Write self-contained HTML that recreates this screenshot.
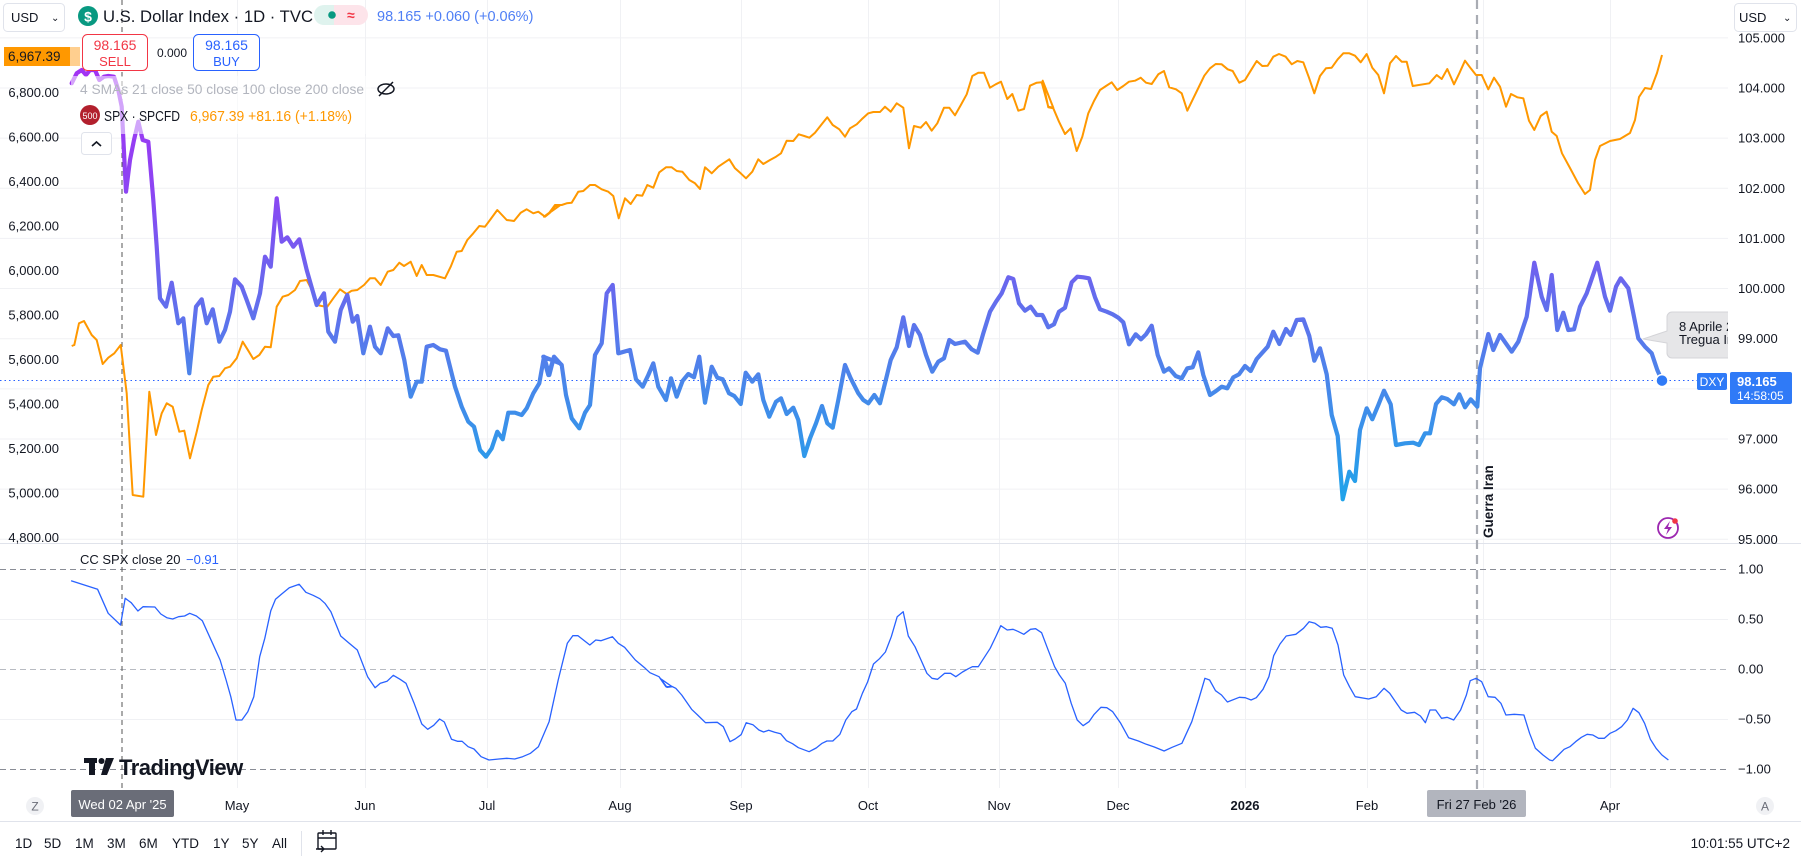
<!DOCTYPE html>
<html><head><meta charset="utf-8">
<style>
html,body{margin:0;padding:0;background:#fff;}
svg{display:block;font-family:"Liberation Sans",Arial,sans-serif;}
</style></head>
<body>
<svg id="s" width="1801" height="858" viewBox="0 0 1801 858" xmlns="http://www.w3.org/2000/svg">
<defs>
<linearGradient id="dg" gradientUnits="userSpaceOnUse" x1="0" y1="60" x2="0" y2="500">
<stop offset="0" stop-color="#a431f3"/>
<stop offset="0.3" stop-color="#8c45f3"/>
<stop offset="0.5" stop-color="#6a66ee"/>
<stop offset="0.73" stop-color="#4a86ea"/>
<stop offset="1" stop-color="#1fa3ea"/>
</linearGradient>
<clipPath id="pane"><rect x="0" y="0" width="1728" height="543"/></clipPath>
</defs>
<rect width="1801" height="858" fill="#fff"/>
<g id="grid" stroke="#f0f1f4" stroke-width="1"></g>
<line x1="0" y1="569.5" x2="1728" y2="569.5" stroke="#8a8d96" stroke-dasharray="6,4"/>
<line x1="0" y1="669.5" x2="1728" y2="669.5" stroke="#b8bbc2" stroke-dasharray="6,4"/>
<line x1="0" y1="769.5" x2="1728" y2="769.5" stroke="#8a8d96" stroke-dasharray="6,4"/>
<line x1="0" y1="543.5" x2="1801" y2="543.5" stroke="#e0e3eb"/>
<line x1="0" y1="821.5" x2="1801" y2="821.5" stroke="#e0e3eb"/>
<line x1="122" y1="0" x2="122" y2="790" stroke="#555" stroke-dasharray="5,4" stroke-width="1"/>
<line x1="1477" y1="0" x2="1477" y2="790" stroke="#a9acb3" stroke-dasharray="9,6" stroke-width="2.2"/>
<line x1="0" y1="380.5" x2="1728" y2="380.5" stroke="#2962ff" stroke-dasharray="1.5,3" stroke-width="1"/>
<path id="spx" fill="none" stroke="#ff9800" stroke-width="2" stroke-linejoin="round"/>
<path id="dxy" fill="none" stroke="url(#dg)" stroke-width="4.2" stroke-linejoin="round" stroke-linecap="round"/>
<path id="cc" fill="none" stroke="#2962ff" stroke-width="1.3" stroke-linejoin="round"/>
<circle cx="1662" cy="380.6" r="6" fill="#2f7af7" stroke="#fff" stroke-width="1.5"/>
<rect x="71" y="76" width="300" height="58" fill="#fff" opacity="0.55"/>
<g id="labels" font-size="13" fill="#131722"></g>

<rect x="3.5" y="3.5" width="61" height="28" rx="4" fill="#fff" stroke="#e0e3eb"/>
<text x="11" y="22" font-size="13" fill="#131722">USD</text>
<text x="51" y="21" font-size="10" fill="#131722">⌄</text>
<circle cx="88" cy="16" r="10" fill="#089981"/>
<text x="88" y="21.5" font-size="14" fill="#fff" text-anchor="middle" font-weight="bold">$</text>
<text x="103" y="22" font-size="17" fill="#131722" textLength="210" lengthAdjust="spacingAndGlyphs">U.S. Dollar Index · 1D · TVC</text>
<path d="M334 5 h-10 a10 10 0 0 0 0 20 h10 z" fill="#dff3ee"/>
<path d="M334 5 h24 a10 10 0 0 1 0 20 h-24 z" fill="#fde4ea"/>
<circle cx="332" cy="15" r="3.8" fill="#089981"/>
<text x="347" y="20" font-size="14" fill="#f23645" font-weight="bold">≈</text>
<text x="377" y="21" font-size="14.5" fill="#4f7ff5">98.165  +0.060 (+0.06%)</text>
<rect x="82.5" y="34.5" width="65" height="36" rx="5" fill="#fff" stroke="#f23645"/>
<text x="115" y="50" font-size="14" fill="#f23645" text-anchor="middle">98.165</text>
<text x="115" y="66" font-size="13" fill="#f23645" text-anchor="middle">SELL</text>
<text x="157" y="57" font-size="12" fill="#131722">0.000</text>
<rect x="193.5" y="34.5" width="66" height="36" rx="5" fill="#fff" stroke="#2962ff"/>
<text x="226.5" y="50" font-size="14" fill="#2962ff" text-anchor="middle">98.165</text>
<text x="226.5" y="66" font-size="13" fill="#2962ff" text-anchor="middle">BUY</text>
<rect x="4" y="47" width="66" height="19" fill="#ff9800"/>
<rect x="70" y="47" width="10" height="19" fill="#ffcf8f"/>
<text x="8" y="61" font-size="13.5" fill="#131722">6,967.39</text>
<text x="80" y="94" font-size="14" fill="#b2b5be" textLength="284" lengthAdjust="spacingAndGlyphs">4 SMAs 21 close 50 close 100 close 200 close</text>
<g stroke="#131722" stroke-width="1.5" fill="none"><ellipse cx="386" cy="89" rx="8" ry="5"/><line x1="379" y1="96" x2="393" y2="82"/></g>
<circle cx="90" cy="115" r="10" fill="#b2202d"/>
<text x="90" y="119" font-size="9" fill="#fff" text-anchor="middle">500</text>
<text x="104" y="121" font-size="14.5" fill="#131722" textLength="76" lengthAdjust="spacingAndGlyphs">SPX · SPCFD</text>
<text x="190" y="121" font-size="14.5" fill="#ff9800" textLength="162" lengthAdjust="spacingAndGlyphs">6,967.39  +81.16 (+1.18%)</text>
<rect x="81.5" y="132.5" width="30" height="22" rx="3" fill="#fff" stroke="#e0e3eb"/>
<path d="M92 146 l4.5 -4 l4.5 4" fill="none" stroke="#131722" stroke-width="1.6"/>
<rect x="1734.5" y="3.5" width="62" height="28" rx="4" fill="#fff" stroke="#e0e3eb"/>
<text x="1739" y="22" font-size="13" fill="#131722">USD</text>
<text x="1783" y="21" font-size="10" fill="#131722">⌄</text>

<g clip-path="url(#pane)">
<path d="M1672 312 h60 v46 h-60 a5 5 0 0 1 -5 -5 v-10 l-24 -4 l24 -8 v-14 a5 5 0 0 1 5 -5z" fill="#e6e6e8" stroke="#d4d4d8"/>
<text x="1679" y="331" font-size="13" fill="#131722">8 Aprile 2026</text>
<text x="1679" y="344" font-size="13" fill="#131722">Tregua Iran</text>
</g>
<rect x="1697" y="373" width="30" height="17" rx="2" fill="#2f7af7"/>
<text x="1712" y="386" font-size="12" fill="#fff" text-anchor="middle">DXY</text>
<rect x="1730" y="372" width="62" height="32" rx="2" fill="#2f7af7"/>
<text x="1737" y="386" font-size="13" fill="#fff" font-weight="bold">98.165</text>
<text x="1737" y="400" font-size="12" fill="#fff">14:58:05</text>

<text transform="translate(1493,538) rotate(-90)" font-size="13.5" font-weight="bold" fill="#131722">Guerra Iran</text>
<circle cx="1668" cy="528" r="10" fill="none" stroke="#9c27b0" stroke-width="1.8"/>
<path d="M1670 521 l-6 8 h4 l-2 6 l6 -8 h-4 z" fill="#9c27b0"/>
<circle cx="1675" cy="521" r="2.8" fill="#f23645"/>

<text x="80" y="564" font-size="13" fill="#131722">CC SPX close 20</text>
<text x="186" y="564" font-size="13" fill="#2962ff">−0.91</text>
<g fill="#131722">
<rect x="84" y="758" width="13" height="5"/><rect x="89" y="758" width="6" height="17"/>
<circle cx="101.5" cy="761" r="3"/>
<path d="M106 758 h8 l-7 17 h-6 z"/>
<text x="119" y="775" font-size="22" font-weight="bold" letter-spacing="-0.5">TradingView</text>
</g>

<circle cx="35" cy="806" r="9" fill="#f0f1f4"/>
<text x="35" y="810.5" font-size="12" fill="#6a6d78" text-anchor="middle">Z</text>
<circle cx="1765" cy="806" r="9" fill="#f0f1f4"/>
<text x="1765" y="810.5" font-size="12" fill="#6a6d78" text-anchor="middle">A</text>
<g id="tl" font-size="13" fill="#131722" text-anchor="middle"></g>
<rect x="71" y="790" width="103" height="27" rx="2" fill="#6a6d78"/>
<text x="122.5" y="809" font-size="13" fill="#fff" text-anchor="middle">Wed 02 Apr '25</text>
<rect x="1427" y="790" width="99" height="27" rx="2" fill="#b2b5be"/>
<text x="1476.5" y="809" font-size="13" fill="#131722" text-anchor="middle">Fri 27 Feb '26</text>

<g font-size="13.5" fill="#131722">
<text x="15" y="848">1D</text><text x="44" y="848">5D</text><text x="75" y="848">1M</text>
<text x="107" y="848">3M</text><text x="139" y="848">6M</text><text x="172" y="848">YTD</text>
<text x="213" y="848">1Y</text><text x="242" y="848">5Y</text><text x="272" y="848">All</text>
<text x="1790" y="848" text-anchor="end">10:01:55 UTC+2</text>
</g>
<line x1="301.5" y1="831" x2="301.5" y2="856" stroke="#e0e3eb"/>
<g fill="none" stroke="#131722" stroke-width="1.4">
<rect x="318" y="833" width="18" height="16" rx="1"/><line x1="318" y1="838" x2="336" y2="838"/>
<line x1="323" y1="830" x2="323" y2="835"/><line x1="331" y1="830" x2="331" y2="835"/>
<path d="M316 849 h8 m-3 -3 l3 3 l-3 3"/>
</g>
</svg>
<script>
(function(){
var NS="http://www.w3.org/2000/svg";
function el(t,a,p,txt){var e=document.createElementNS(NS,t);for(var k in a)e.setAttribute(k,a[k]);if(txt!=null)e.textContent=txt;p.appendChild(e);return e;}
function conv(arr,x0,y0,sx,sy){var r=[];for(var i=0;i<arr.length;i+=2)r.push([x0+arr[i]*sx,y0+arr[i+1]*sy]);return r;}
function path(pts){return pts.map(function(p,i){return (i?"L":"M")+p[0].toFixed(1)+" "+p[1].toFixed(1);}).join(" ");}
var g=document.getElementById("grid");
[237,365,487,620,741,868,999,1118,1245,1367,1483,1610].forEach(function(x){el("line",{x1:x+.5,y1:0,x2:x+.5,y2:788},g);});
for(var v=95;v<=105;v++){var y=88+(104-v)*50.14;el("line",{x1:0,y1:y,x2:1728,y2:y},g);}
el("line",{x1:0,y1:619.5,x2:1728,y2:619.5},g);el("line",{x1:0,y1:719.5,x2:1728,y2:719.5},g);
var L=document.getElementById("labels");
for(var v=7000;v>=4800;v-=200){var y=92.5+(6800-v)*0.2225;if(v==7000)continue;
 el("text",{x:59,y:y+4.5,"text-anchor":"end"},L,(v/1000).toFixed(3).replace(".",",")+".00");}
for(var v=105;v>=95;v--){var y=88+(104-v)*50.14;if(v==98)continue;el("text",{x:1738,y:y+4.5},L,v.toFixed(3));}
[["1.00",569],["0.50",619],["0.00",669],["−0.50",719],["−1.00",769]].forEach(function(a){el("text",{x:1738,y:a[1]+4.5},L,a[0]);});
var T=document.getElementById("tl");
[["May",237],["Jun",365],["Jul",487],["Aug",620],["Sep",741],["Oct",868],["Nov",999],["Dec",1118],["2026",1245],["Feb",1367],["Apr",1610]].forEach(function(a){var t=el("text",{x:a[1],y:810},T,a[0]);if(a[0]=="2026")t.setAttribute("font-weight","bold");});
var d=[];
d=d.concat(conv([35,70,50,40,65,30,78,45,90,30,105,30,118,60,132,50,145,48,162,50,175,90,185,140,198,395,210,300,222,240,235,185,248,240,265,245,280,420,290,560,300,715,318,740,335,668,355,790,370,775,388,940,408,740,425,718,440,790,458,748,478,845,495,810,510,755,525,658,545,680,560,720,580,775,600,700,615,590,632,620,650,415,665,545,682,532,700,560,718,538,740,630,770,735,792,700,805,815,825,845,842,750,862,705,878,785,892,768,910,880,930,800,945,860,962,880,983,805,1000,828,1015,826,1033,900,1052,1010,1070,965,1085,965,1100,860,1120,855,1140,868,1158,872,1185,980,1205,1040,1225,1085,1242,1100,1260,1170,1278,1190,1295,1165,1312,1115,1328,1138,1345,1058,1365,1058,1385,1065,1400,1045,1420,1000,1438,970,1452,890,1468,945,1482,890,1500,910],60,60,1/3,1/3));
d=d.concat(conv([10,950,25,1005,42,952,65,975,78,1065,95,1135,118,1165,135,1118,150,1095,165,945,185,910,200,760,218,735,235,940,270,930,288,1018,308,1040,325,1005,340,970,355,1040,378,1080,393,1015,410,1070,428,1022,445,1002,462,1012,478,950,495,1088,515,980,532,1013,548,1018,567,1060,583,1068,602,1092,617,998,637,1025,655,1003,670,1080,688,1130,708,1085,723,1075,740,1122,760,1103,775,1140,793,1248,810,1195,828,1150,846,1098,862,1150,878,1163,895,1080,915,975,932,1015,955,1060,970,1080,985,1090,1003,1065,1020,1090,1035,1030,1052,960,1070,922,1090,832,1107,918,1122,855,1140,885,1158,945,1177,995,1195,965,1212,955,1228,900,1245,912,1275,905,1295,928,1313,938,1330,880,1350,815,1368,785,1385,760,1405,712,1420,717,1437,790,1455,812,1472,800,1490,825,1507,825],540,40,1/3,1/3));
d=d.concat(conv([10,830,25,862,42,853,57,815,75,803,95,727,112,710,130,712,147,715,165,772,180,808,200,815,218,823,235,833,250,847,267,913,287,883,303,898,318,883,335,857,353,945,372,995,387,985,407,1008,425,1015,442,985,458,982,475,937,490,1005,510,1065,528,1053,545,1040,562,1045,580,1012,597,1003,615,978,632,993,650,957,667,938,683,920,700,875,718,912,738,867,752,885,770,840,790,838,808,888,823,962,840,925,860,1003,875,1125,893,1188,908,1378,928,1295,945,1323,960,1170,980,1105,997,1138,1015,1095,1032,1052,1052,1093,1068,1215,1095,1210,1120,1208,1137,1215,1155,1180,1170,1180,1188,1092,1205,1072,1222,1077,1242,1093,1258,1063,1275,1102,1292,1078,1312,1100],1040,40,1/3,1/3));
d=d.concat(conv([240,355,265,252,280,300,300,255,335,305,355,275,380,200,403,38,425,140,440,180,455,75,472,240,490,188,505,240,522,238,540,170,560,130,592,38,615,140,630,182,648,110,662,85,685,115,715,265,735,290,755,310,772,360],1400,250,1/3,1/3));
d.push([1662,380.6]);
document.getElementById("dxy").setAttribute("d",path(d));
var s=[];
s=s.concat(conv([35,858,43,855,57,790,72,783,95,825,110,840,128,912,145,893,163,880,182,855,200,1000,218,1305,250,1310,268,995,288,1125,305,1060,320,1030,338,1040,358,1115,373,1112,390,1195,410,1115,425,1050,445,975,460,950,478,948,495,925,510,920,530,895,548,845,565,872,580,897,598,885,615,860,632,862,650,740,668,710,685,705,705,690,720,663,740,660,760,698,772,735,785,738,802,740,822,712,840,688,860,702,875,692,892,690,912,675,930,655,945,655,962,675,983,635,1000,630,1018,608,1032,618,1052,605,1070,648,1085,615,1100,645,1120,645,1155,655,1172,620,1190,575,1205,573,1222,540,1240,520,1258,498,1275,500,1290,480,1312,450,1340,480,1362,483,1382,458,1400,448,1420,460,1435,455,1455,470,1470,458,1485,438,1500,436],60,60,1/3,1/3));
s=s.concat(conv([12,530,28,518,45,495,65,495,80,490,95,488,115,455,130,453,150,435,165,435,185,448,205,455,220,468,236,535,255,475,272,492,290,465,307,467,322,435,340,443,358,397,378,382,395,382,410,393,427,395,448,420,465,430,480,447,495,382,515,400,535,380,550,370,568,358,585,385,602,400,618,415,637,395,655,358,670,372,690,360,708,350,723,340,740,302,760,303,776,283,793,288,808,293,825,278,845,253,862,232,878,255,898,268,915,290,930,265,950,253,965,238,985,220,1000,216,1020,216,1035,200,1052,215,1070,190,1090,203,1107,325,1122,258,1142,263,1158,246,1175,272,1192,250,1212,203,1228,203,1245,226,1262,196,1280,163,1297,108,1315,98,1332,98,1350,143,1367,133,1383,125,1402,177,1417,162,1435,212,1452,207,1470,137,1490,128,1505,127,1525,200,1540,203],540,40,1/3,1/3));
s=s.concat(conv([8,122,25,202,40,205,57,245,75,282,92,265,110,333,127,290,145,220,162,183,180,150,198,138,215,127,232,150,250,138,267,125,285,122,302,113,318,128,335,132,355,103,372,93,388,142,408,148,425,160,442,212,460,175,478,138,493,107,510,85,527,72,545,73,563,88,578,93,598,128,615,120,632,92,650,63,667,78,683,77,700,50,717,42,737,50,755,73,772,63,790,67,807,113,823,160,840,108,858,85,875,83,893,58,910,40,928,40,945,47,962,67,980,42,997,83,1015,105,1032,160,1050,70,1068,48,1085,65,1100,65,1118,138,1168,130,1190,105,1205,117,1222,87,1242,133,1258,100,1275,62,1292,85,1308,105,1325,105,1345,148,1362,113,1380,140,1398,200,1413,162,1432,172,1450,175,1467,242,1483,270,1502,228,1520,215,1535,275,1550,288,1566,340],1040,40,1/3,1/3));
s=s.concat([[1570,168],[1578,183],[1585,194],[1590,190],[1595,160],[1600,146],[1610,141],[1620,139],[1630,133],[1635,120],[1639,97],[1645,88],[1651,89],[1657,73],[1662,55]]);
document.getElementById("spx").setAttribute("d",path(s));
var c=[];
c=c.concat(conv([28,62,95,88,122,160,153,195,165,115,180,128,197,153,210,140,240,141,255,162,270,173,285,177,300,170,315,168,328,160,345,168,360,182,380,235,405,300,420,360,432,410,445,480,460,480,475,455,490,410,505,290,518,235,533,152,545,118,560,103,580,83,605,73,622,97,640,106,657,116,670,130,685,155,710,228,730,248,752,270,778,350,797,383,810,370,827,364,843,346,860,358,875,370,895,428,915,492,930,508,945,496,960,477,972,486,990,538,1005,544,1017,544,1032,560,1047,567,1065,590,1085,600,1110,597,1130,595,1150,597,1170,590,1190,580,1210,560,1237,485,1260,360,1283,250,1297,227,1310,227,1340,255,1355,240,1368,242,1397,230,1412,250,1428,262,1455,300,1480,325,1492,338,1515,350,1535,382,1548,380],60,560,620/1568,1/3));
c=c.concat(conv([0,355,15,380,28,378,40,385,55,405,80,448,95,465,115,488,145,487,160,500,177,545,190,537,205,524,218,488,235,494,250,510,262,516,275,511,290,517,305,521,320,542,335,551,350,563,377,575,395,564,410,550,422,543,437,543,455,523,470,480,485,455,497,447,512,400,525,366,540,312,555,296,570,276,585,230,600,170,615,155,628,228,645,260,660,300,675,340,688,355,702,358,720,340,735,340,748,350,765,336,780,326,790,320,805,320,835,265,850,228,862,197,878,210,893,208,905,214,920,223,937,208,950,206,965,218,980,265,998,320,1010,345,1025,370,1040,430,1055,480,1070,497,1085,485,1098,463,1115,442,1130,443,1145,455,1165,490,1185,533,1210,543,1230,553,1250,561,1275,573,1295,562,1320,550,1345,485,1362,420,1378,355,1390,360,1405,392,1420,405,1435,426,1465,412,1480,413,1495,420,1508,413,1525,388,1540,350,1552,287,1568,252],660,560,620/1568,1/3));
c=c.concat(conv([225,708,250,703,270,685,285,665,300,670,315,682,330,680,345,685,360,735,375,825,390,860,405,890,440,897,460,890,480,865,495,880,510,905,525,930,540,940,560,937,575,948,588,968,600,930,615,930,630,955,645,952,662,960,680,930,695,885,705,842,720,835,735,845,752,890,770,892,785,910,798,945,820,943,845,945,860,1000,875,1045,895,1065,912,1080,920,1082,935,1065,950,1048,965,1040,980,1025,995,1012,1010,1003,1025,1005,1040,1015,1055,1015,1070,1000,1085,992,1100,980,1115,960,1130,925,1145,938,1160,970,1175,1018,1190,1045,1205,1065,1222,1080],1200,400,601/1568,1/3));
document.getElementById("cc").setAttribute("d",path(c));
})();
</script>
</body></html>
